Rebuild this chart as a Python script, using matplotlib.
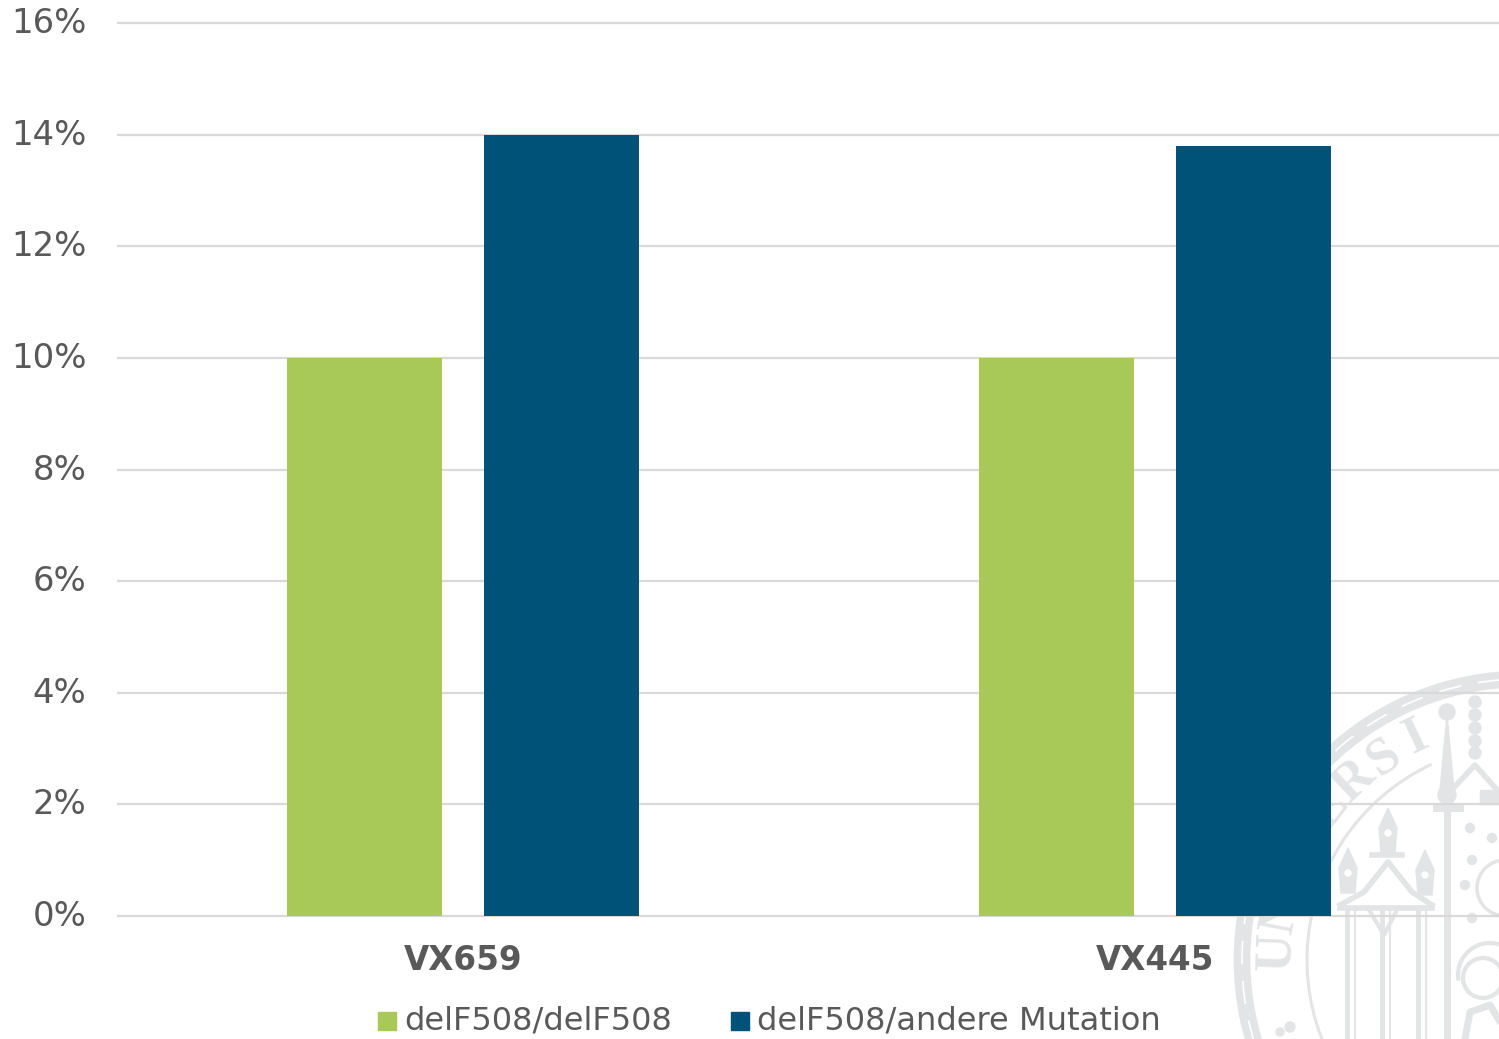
import matplotlib
matplotlib.use('Agg')
import matplotlib.pyplot as plt
import numpy as np
from matplotlib.transforms import ScaledTranslation
from matplotlib.patches import Rectangle, Circle, Arc, Polygon

plt.rcParams['font.family'] = ['DejaVu Sans']

categories = ['VX659', 'VX445']
series_names = ['delF508/delF508', 'delF508/andere Mutation']
homozygous = [10, 10]
heterozygous = [14, 13.8]
y_ticks = [0, 2, 4, 6, 8, 10, 12, 14, 16]

GREEN = '#a8c957'
BLUE = '#005278'
GRID = '#d9d9d9'
TEXT = '#595959'
SEAL = '#e3e4e5'

W, H = 1499, 1039
fig = plt.figure(figsize=(W / 100, H / 100), dpi=100, facecolor='white')


def draw_seal():
    # university seal watermark, rough sketch in pixel coords
    sx = fig.add_axes([0, 0, 1, 1], zorder=-1)
    sx.set_xlim(0, W)
    sx.set_ylim(H, 0)
    sx.axis('off')
    cx, cy = 1523, 960

    # chain ring and inner ring (y axis is flipped here, so angles run clockwise)
    sx.add_patch(Circle((cx, cy), 281, fill=False, ec=SEAL, lw=12))
    sx.add_patch(Circle((cx, cy), 281, fill=False, ec='white', lw=1.2, ls=(0, (14, 10))))
    sx.add_patch(Arc((cx, cy), 432, 432, theta1=120, theta2=245, ec=SEAL, lw=2.2))

    # lettering along the ring
    for i, ch in enumerate('UNIVERSI'):
        ang = np.radians(178 - i * 8.9)
        sx.text(cx + 246 * np.cos(ang), cy - 246 * np.sin(ang), ch, fontsize=38,
                family='Liberation Serif', fontweight='bold', color=SEAL, ha='center', va='center',
                rotation=np.degrees(ang) - 90)

    # gothic canopy with three spires
    for px in [1347, 1382, 1418]:
        sx.plot([px, px], [907, 1039], color=SEAL, lw=3.5)
        sx.plot([px + 8, px + 8], [907, 1039], color=SEAL, lw=1.5)
    sx.plot([1340, 1364, 1388, 1412, 1432], [905, 892, 862, 892, 905], color=SEAL, lw=4)
    sx.plot([1340, 1432], [908, 908], color=SEAL, lw=4)
    sx.plot([1368, 1384, 1398], [908, 935, 908], color=SEAL, lw=3)
    for px, py in [(1348, 878), (1388, 838), (1425, 880)]:
        sx.add_patch(Polygon([(px, py - 30), (px + 9, py - 10), (px + 7, py + 15),
                              (px - 7, py + 15), (px - 9, py - 10)], color=SEAL))
        sx.add_patch(Circle((px, py - 5), 3, color='white'))
    sx.plot([1372, 1402], [855, 855], color=SEAL, lw=4)

    # staff and second tower
    sx.add_patch(Polygon([(1447, 715), (1454, 790), (1440, 790)], color=SEAL))
    sx.add_patch(Circle((1447, 712), 8, color=SEAL))
    sx.add_patch(Circle((1447, 795), 9, color=SEAL))
    sx.plot([1447, 1447], [800, 1039], color=SEAL, lw=5)
    sx.plot([1436, 1460], [808, 808], color=SEAL, lw=5)
    for py in [702, 715, 728, 741, 753]:
        sx.add_patch(Circle((1475, py), 6, color=SEAL))
    sx.plot([1447, 1475, 1499], [795, 765, 792], color=SEAL, lw=4)
    sx.add_patch(Rectangle((1480, 790), 19, 14, color=SEAL))

    # small ornaments, medallion and figure on the right
    for px, py in [(1470, 828), (1492, 838), (1472, 860), (1465, 885), (1472, 918)]:
        sx.add_patch(Circle((px, py), 4.5, color=SEAL))
    sx.add_patch(Circle((1505, 888), 28, fill=False, ec=SEAL, lw=2.5))
    sx.add_patch(Circle((1483, 978), 20, fill=False, ec=SEAL, lw=3))
    sx.add_patch(Arc((1490, 975), 64, 64, theta1=170, theta2=320, ec=SEAL, lw=3))
    sx.plot([1465, 1470, 1490, 1499], [1039, 1012, 1005, 1020], color=SEAL, lw=5)
    sx.add_patch(Circle((1290, 1027), 5, color=SEAL))
    sx.add_patch(Circle((1280, 1032), 4, color=SEAL))


draw_seal()

# plot area in pixels: x 117-1499, y 23 (16%) - 916 (0%)
ax = fig.add_axes([117 / W, 1 - 916 / H, (W - 117) / W, (916 - 23) / H], zorder=1)
ax.patch.set_alpha(0)

x = np.arange(len(categories))
spacing = 692.0
bar_w = 155 / spacing
offset = 98.5 / spacing
ax.bar(x - offset, homozygous, bar_w, color=GREEN, zorder=3, label=series_names[0])
ax.bar(x + offset, heterozygous, bar_w, color=BLUE, zorder=3, label=series_names[1])

ax.set_xlim((117 - 463) / spacing, (1499 - 463) / spacing)
ax.set_ylim(0, 16)
ax.set_yticks(y_ticks)
ax.set_yticklabels([str(v) + '%' for v in y_ticks], fontsize=24.4, color=TEXT)
ax.set_xticks(x)
ax.set_xticklabels(categories, fontsize=23.5, fontweight='bold', color=TEXT)
ax.tick_params(axis='both', length=0)
ax.tick_params(axis='y', pad=22)
ax.tick_params(axis='x', pad=20)
ax.grid(axis='y', color=GRID, linewidth=1.6, zorder=0, clip_on=False, solid_capstyle='butt')
ax.set_axisbelow(True)
for s in ['top', 'right', 'left', 'bottom']:
    ax.spines[s].set_visible(False)
shift_up = ScaledTranslation(0, 3 / 100, fig.dpi_scale_trans)
for lab in ax.get_yticklabels():
    lab.set_transform(lab.get_transform() + shift_up)

# legend by hand, swatch + text
fig.add_artist(Rectangle((378 / W, 1 - 1030 / H), 18 / W, 18 / H, color=GREEN, transform=fig.transFigure))
fig.text(404 / W, 1 - 1021 / H, series_names[0], fontsize=23.1, color=TEXT, va='center')
fig.add_artist(Rectangle((731 / W, 1 - 1030 / H), 18 / W, 18 / H, color=BLUE, transform=fig.transFigure))
fig.text(757 / W, 1 - 1021 / H, series_names[1], fontsize=23.1, color=TEXT, va='center')

fig.savefig('out.png', dpi=100)
